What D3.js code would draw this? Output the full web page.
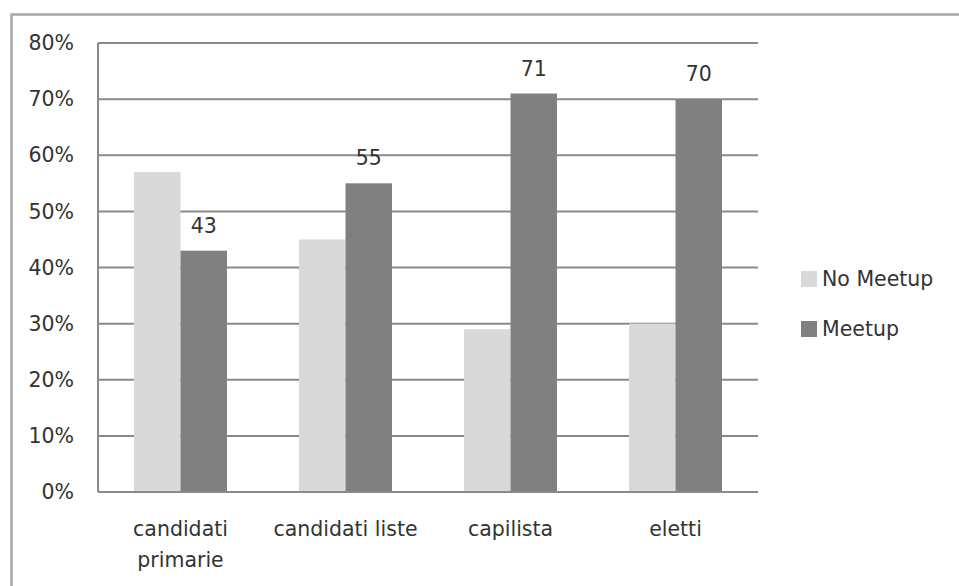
<!DOCTYPE html>
<html>
<head>
<meta charset="utf-8">
<script src="https://cdn.jsdelivr.net/npm/d3@7"></script>
<style>
  html, body { margin: 0; padding: 0; background: #fff; }
  svg { display: block; }
</style>
</head>
<body>
<svg id="chart" width="959" height="586"></svg>
<script>
const categories = [["candidati", "primarie"], ["candidati liste"], ["capilista"], ["eletti"]];
const seriesNames = ["No Meetup", "Meetup"];
const noMeetup = [57, 45, 29, 30];
const meetup = [43, 55, 71, 70];
const yTicks = [0, 10, 20, 30, 40, 50, 60, 70, 80];
const colors = ["#d9d9d9", "#808080"];

const svg = d3.select("#chart");
const font = "DejaVu Sans";
const fs = 20.5;
const textColor = "#333";

const plotLeft = 98, plotRight = 758, plotTop = 43, plotBottom = 492;

// outer frame (cropped at right/bottom)
svg.append("rect")
  .attr("x", 11.5).attr("y", 14.5).attr("width", 1000).attr("height", 1000)
  .attr("fill", "#fff").attr("stroke", "#a6a6a6").attr("stroke-width", 2.5);

const catKeys = categories.map((c, i) => i);
const x0 = d3.scaleBand().domain(catKeys).range([plotLeft, plotRight]).paddingInner(0).paddingOuter(0);
const x1 = d3.scaleBand().domain(seriesNames).range([0, x0.bandwidth()]).paddingInner(0).paddingOuter(0.774);
const y = d3.scaleLinear().domain([0, 80]).range([plotBottom, plotTop]);

// gridlines
svg.append("g").selectAll("line").data(yTicks).join("line")
  .attr("x1", plotLeft).attr("x2", plotRight)
  .attr("y1", d => y(d)).attr("y2", d => y(d))
  .attr("stroke", "#8a8a8a").attr("stroke-width", 2);

// left axis line
svg.append("line")
  .attr("x1", plotLeft).attr("x2", plotLeft).attr("y1", y(80)).attr("y2", y(0))
  .attr("stroke", "#8a8a8a").attr("stroke-width", 2);

// y tick labels
svg.append("g").selectAll("text").data(yTicks).join("text")
  .attr("x", 74).attr("y", d => y(d)).attr("dy", "0.35em")
  .attr("text-anchor", "end")
  .attr("font-family", font).attr("font-size", fs).attr("fill", textColor)
  .text(d => d + "%");

// bars
const rows = catKeys.map(i => ({ i, vals: [noMeetup[i], meetup[i]] }));
const groups = svg.append("g").selectAll("g").data(rows).join("g")
  .attr("transform", d => `translate(${x0(d.i)},0)`);
groups.selectAll("rect").data(d => d.vals.map((v, k) => ({ v, k }))).join("rect")
  .attr("x", d => x1(seriesNames[d.k]))
  .attr("width", x1.bandwidth())
  .attr("y", d => y(d.v))
  .attr("height", d => y(0) - y(d.v))
  .attr("fill", d => colors[d.k]);

// axis line at bottom on top of bars
svg.append("line")
  .attr("x1", plotLeft).attr("x2", plotRight).attr("y1", y(0)).attr("y2", y(0))
  .attr("stroke", "#8a8a8a").attr("stroke-width", 2);

// data labels on Meetup
svg.append("g").selectAll("text").data(catKeys).join("text")
  .attr("x", i => x0(i) + x1("Meetup") + x1.bandwidth() / 2)
  .attr("y", i => y(meetup[i]) - 18)
  .attr("text-anchor", "middle")
  .attr("font-family", font).attr("font-size", fs).attr("fill", textColor)
  .text(i => meetup[i]);

// category labels
const catG = svg.append("g").selectAll("text").data(catKeys).join("text")
  .attr("text-anchor", "middle")
  .attr("font-family", font).attr("font-size", fs).attr("fill", textColor);
catG.selectAll("tspan").data(i => categories[i].map((t, j) => ({ t, j, i }))).join("tspan")
  .attr("x", d => x0(d.i) + x0.bandwidth() / 2)
  .attr("y", d => 536 + d.j * 31)
  .text(d => d.t);

// legend
const leg = svg.append("g").selectAll("g").data(seriesNames).join("g")
  .attr("transform", (d, k) => `translate(801,${271 + k * 50})`);
leg.append("rect").attr("width", 16).attr("height", 16).attr("fill", (d, k) => colors[k]);
leg.append("text").attr("x", 21).attr("y", 15)
  .attr("font-family", font).attr("font-size", fs).attr("fill", textColor)
  .text(d => d);
</script>
</body>
</html>
